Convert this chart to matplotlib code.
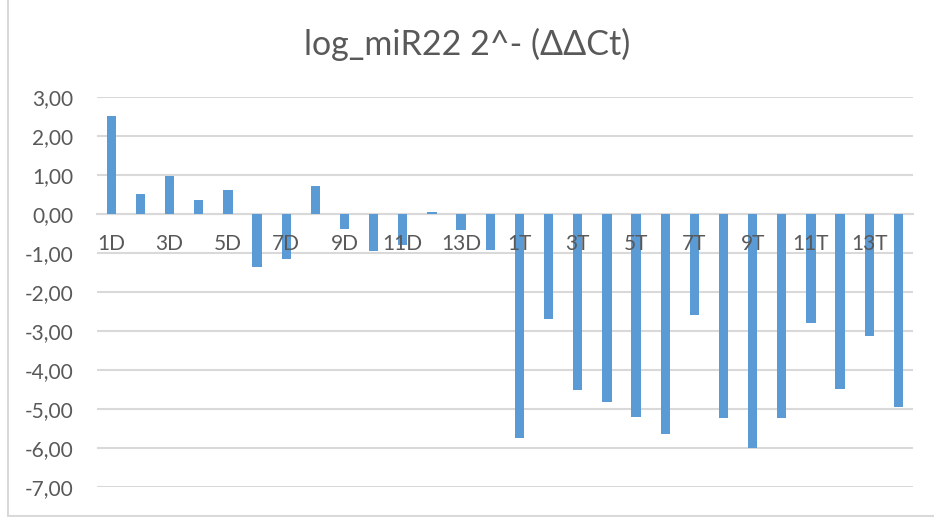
import numpy as np
import matplotlib.pyplot as plt
from matplotlib.lines import Line2D

OUTPUT_PLOT_FILE = "out.png"

# Amostras: controles (D) e tratados (T)
samples = [f"{i}D" for i in range(1, 15)] + [f"{i}T" for i in range(1, 15)]
values = [2.53, 0.51, 0.98, 0.37, 0.62, -1.35, -1.16, 0.72, -0.39, -0.94,
          -0.79, 0.06, -0.40, -0.92,
          -5.74, -2.70, -4.51, -4.83, -5.20, -5.65, -2.59, -5.24, -6.00,
          -5.23, -2.80, -4.48, -3.12, -4.95]
y_ticks = [3, 2, 1, 0, -1, -2, -3, -4, -5, -6, -7]

BAR_COLOR = "#5B9BD5"
GRID_COLOR = "#D9D9D9"
TEXT_COLOR = "#595959"

plt.rcParams['font.family'] = ['Lato', 'DejaVu Sans']

fig = plt.figure(figsize=(9.34, 5.17), dpi=100)
ax = fig.add_axes([0.1035, 0.0586, 0.874, 0.7532])

x = np.arange(len(samples))
ax.bar(x, values, width=0.32, color=BAR_COLOR, zorder=3)

ax.set_xlim(-0.5, len(samples) - 0.5)
ax.set_ylim(-7, 3)
ax.set_yticks(y_ticks)
ax.set_yticklabels([f"{v:.2f}".replace('.', ',') for v in y_ticks])
ax.yaxis.grid(True, color=GRID_COLOR, linewidth=1.5, zorder=0)

# rótulos do eixo x sobre a linha do zero, um a cada dois
ax.set_xticks(x[::2])
ax.set_xticklabels(samples[::2])
ax.xaxis.set_zorder(4)  # texto por cima das barras
ax.spines['bottom'].set_position(('data', 0))
ax.spines['bottom'].set_color(GRID_COLOR)
ax.spines['bottom'].set_linewidth(1.5)
ax.spines['bottom'].set_zorder(1)
for s in ['top', 'right', 'left']:
    ax.spines[s].set_visible(False)

ax.tick_params(axis='both', length=0, colors=TEXT_COLOR, labelsize=15)
ax.tick_params(axis='x', pad=14)
ax.tick_params(axis='y', pad=17)

fig.suptitle("log_miR22 2^- (ΔΔCt)", fontsize=24.5, color=TEXT_COLOR, y=0.947)

# moldura da área do gráfico (só esquerda e base aparecem)
fig.add_artist(Line2D([7.5 / 934, 7.5 / 934], [1.5 / 517, 1], transform=fig.transFigure,
                      color=GRID_COLOR, linewidth=1.5))
fig.add_artist(Line2D([7.5 / 934, 1], [1.5 / 517, 1.5 / 517], transform=fig.transFigure,
                      color=GRID_COLOR, linewidth=1.5))

fig.savefig(OUTPUT_PLOT_FILE, dpi=100)
